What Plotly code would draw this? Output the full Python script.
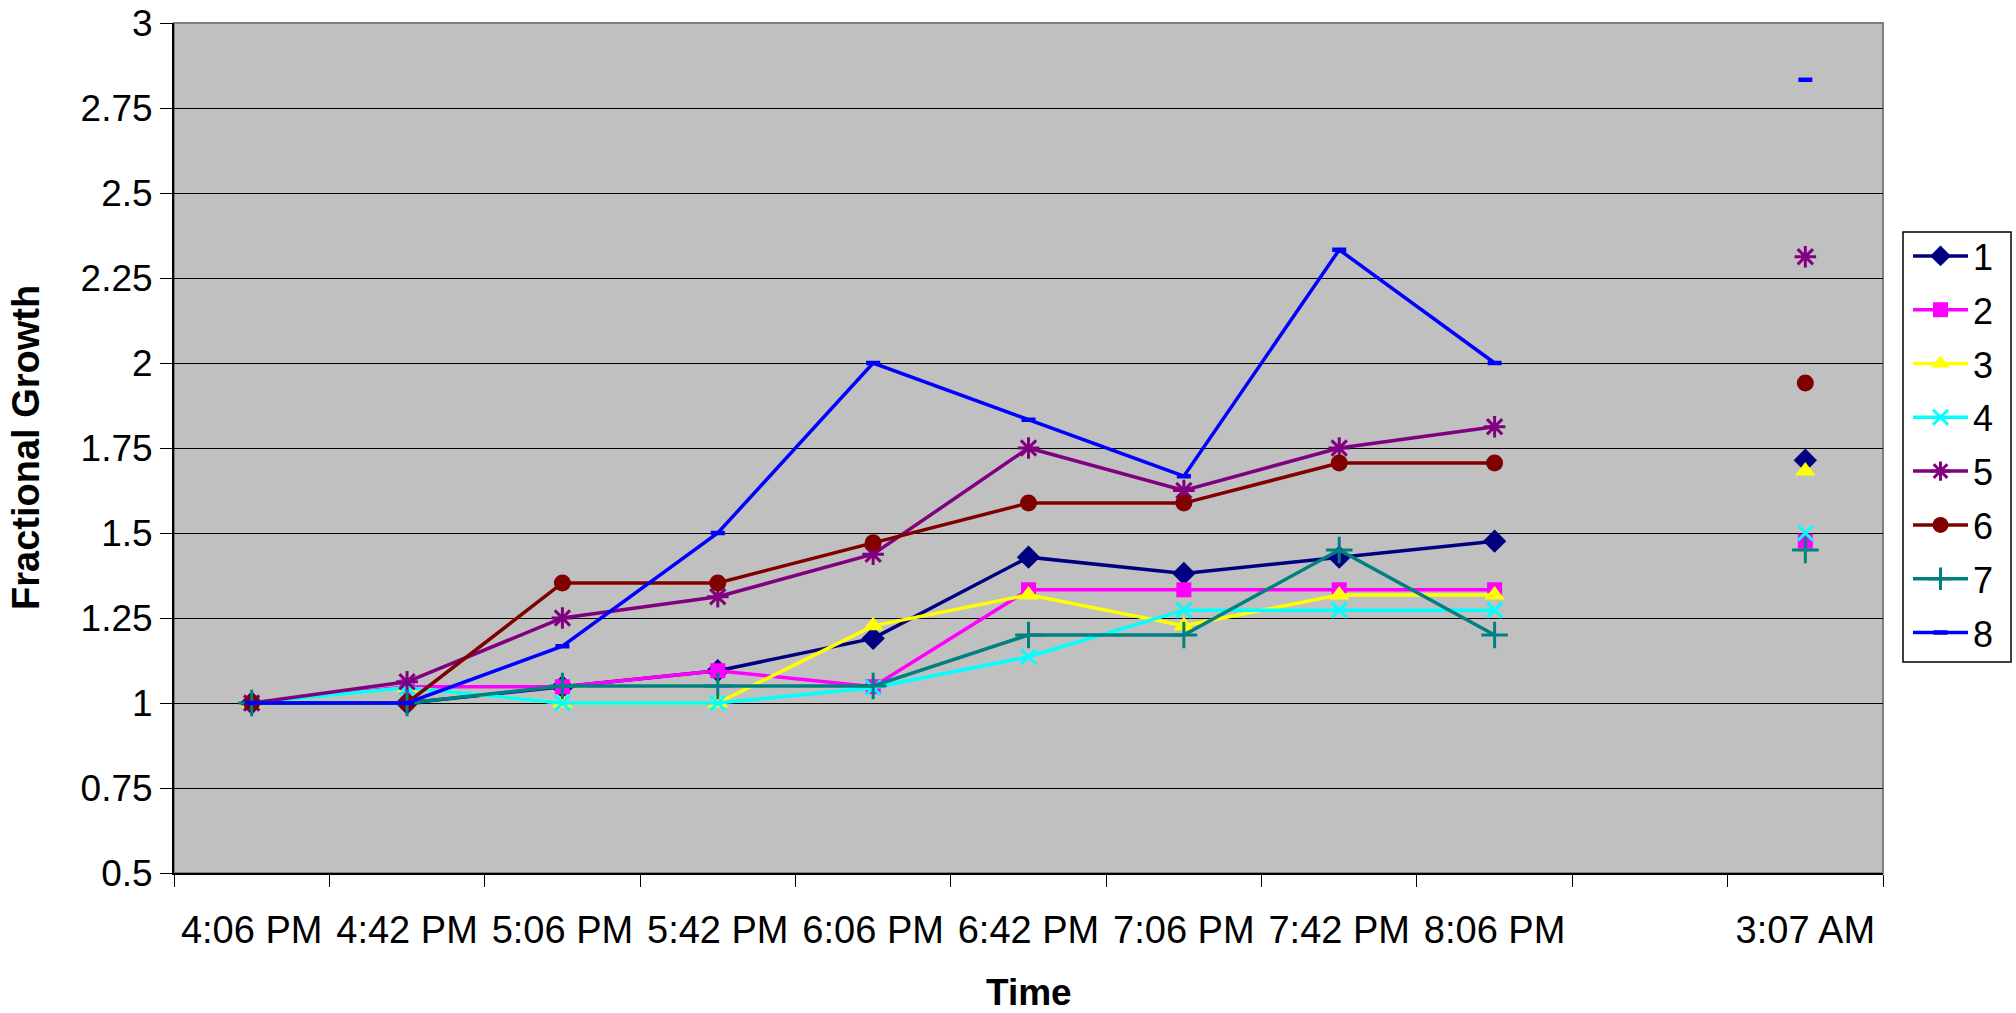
import plotly.graph_objects as go

# Sampling times (the blank slot separates the overnight reading)
times = ["4:06 PM", "4:42 PM", "5:06 PM", "5:42 PM", "6:06 PM", "6:42 PM",
         "7:06 PM", "7:42 PM", "8:06 PM", " ", "3:07 AM"]

# Fractional growth per sample
s1 = [1.0, 1.0, 1.048, 1.095, 1.190, 1.429, 1.381, 1.429, 1.476, None, 1.714]
s2 = [1.0, 1.048, 1.048, 1.095, 1.048, 1.333, 1.333, 1.333, 1.333, None, 1.476]
s3 = [1.0, 1.045, 1.0, 1.0, 1.227, 1.318, 1.227, 1.318, 1.318, None, 1.682]
s4 = [1.0, 1.045, 1.0, 1.0, 1.045, 1.136, 1.273, 1.273, 1.273, None, 1.5]
s5 = [1.0, 1.0625, 1.25, 1.3125, 1.4375, 1.75, 1.625, 1.75, 1.8125, None, 2.3125]
s6 = [1.0, 1.0, 1.353, 1.353, 1.471, 1.588, 1.588, 1.706, 1.706, None, 1.941]
s7 = [1.0, 1.0, 1.05, 1.05, 1.05, 1.2, 1.2, 1.45, 1.2, None, 1.45]
s8 = [1.0, 1.0, 1.167, 1.5, 2.0, 1.833, 1.667, 2.333, 2.0, None, 2.833]

series_names = ["1", "2", "3", "4", "5", "6", "7", "8"]

y_tickvals = [0.5, 0.75, 1.0, 1.25, 1.5, 1.75, 2.0, 2.25, 2.5, 2.75, 3.0]
y_ticktext = ["0.5", "0.75", "1", "1.25", "1.5", "1.75", "2", "2.25", "2.5", "2.75", "3"]

FONT = "Liberation Sans, Arial, sans-serif"

styles = [
    dict(color="#000080", symbol="diamond", size=18, open=False),
    dict(color="#FF00FF", symbol="square", size=15, open=False),
    dict(color="#FFFF00", symbol="triangle-up", size=18, open=False),
    dict(color="#00FFFF", symbol="x-thin-open", size=15, open=True),
    dict(color="#800080", symbol="asterisk-open", size=18, open=True),
    dict(color="#800000", symbol="circle", size=17, open=False),
    dict(color="#008080", symbol="cross-thin-open", size=19, open=True),
    dict(color="#0000FF", symbol="line-ew-open", size=10, open=True),
]

all_series = [s1, s2, s3, s4, s5, s6, s7, s8]

fig = go.Figure()
for name, vals, st in zip(series_names, all_series, styles):
    if st["open"]:
        lw = 4.5 if st["symbol"] == "line-ew-open" else 3
        marker = dict(symbol=st["symbol"], size=st["size"], color=st["color"],
                      line=dict(color=st["color"], width=lw))
    else:
        marker = dict(symbol=st["symbol"], size=st["size"], color=st["color"],
                      line=dict(width=0))
    fig.add_trace(go.Scatter(
        x=times, y=vals, name=name, mode="lines+markers",
        line=dict(color=st["color"], width=3.5),
        marker=marker, connectgaps=False, legendgroup=name,
    ))

L, R, T, B = 174, 133, 23, 140
W, H = 2016, 1013
pw, ph = W - L - R, H - T - B


def px_x(px):
    return (px - L) / pw


def px_y(px):
    return (H - B - px) / ph


fig.update_layout(
    width=W, height=H,
    margin=dict(l=L, r=R, t=T, b=B, autoexpand=False),
    paper_bgcolor="white",
    plot_bgcolor="#C0C0C0",
    font=dict(family=FONT, color="black"),
    showlegend=True,
    legend=dict(
        x=px_x(1908), xanchor="left",
        y=px_y(226), yanchor="top",
        bgcolor="rgba(0,0,0,0)", borderwidth=0,
        font=dict(family=FONT, size=36, color="black"),
        tracegroupgap=4, itemwidth=55,
    ),
    xaxis=dict(
        type="category", categoryorder="array", categoryarray=times,
        range=[-0.5, len(times) - 0.5], automargin=False,
        tickson="boundaries", ticks="outside", ticklen=12, tickwidth=1,
        tickcolor="black", showgrid=False,
        showline=True, linecolor="black", linewidth=2,
        tickfont=dict(family=FONT, size=38, color="black"),
        ticklabelstandoff=22,
    ),
    yaxis=dict(
        range=[0.5, 3.0], tickvals=y_tickvals, ticktext=y_ticktext,
        automargin=False,
        ticks="outside", ticklen=12, tickwidth=1, tickcolor="black",
        showgrid=True, gridcolor="black", gridwidth=1,
        showline=True, linecolor="black", linewidth=2, zeroline=False,
        tickfont=dict(family=FONT, size=37, color="black"),
        ticklabelstandoff=0,
    ),
    shapes=[
        # plot-area frame
        dict(type="rect", xref="paper", yref="paper", x0=0, x1=1, y0=0, y1=1,
             line=dict(color="#808080", width=2), layer="below"),
        # legend frame
        dict(type="rect", xref="paper", yref="paper",
             x0=px_x(1903), x1=px_x(2011), y0=px_y(662), y1=px_y(232),
             line=dict(color="black", width=1.5), fillcolor="white", layer="below"),
    ],
    annotations=[
        dict(text="<b>Time</b>", xref="paper", yref="paper",
             x=0.5, y=px_y(992), xanchor="center", yanchor="middle",
             showarrow=False, font=dict(family=FONT, size=37, color="black")),
        dict(text="<b>Fractional Growth</b>", xref="paper", yref="paper",
             x=px_x(26), y=0.5, xanchor="center", yanchor="middle",
             textangle=-90, showarrow=False,
             font=dict(family=FONT, size=38, color="black")),
    ],
)

fig.write_html("out.html")
